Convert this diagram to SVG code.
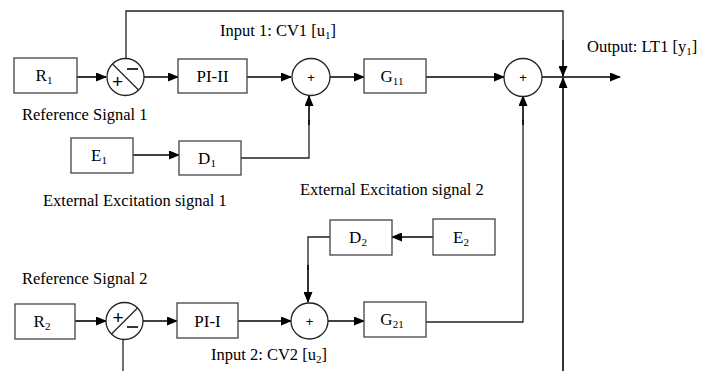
<svg xmlns="http://www.w3.org/2000/svg" width="704" height="371" viewBox="0 0 704 371">
<style>
.box{fill:#fff;stroke:#444;stroke-width:1.3}
.sum{fill:#fff;stroke:#222;stroke-width:1.3}
.ln{fill:none;stroke:#000;stroke-width:1.6}
.thin{fill:none;stroke:#222;stroke-width:1.3}
text{font-family:"Liberation Serif","Times New Roman",serif;fill:#000}
.lbl{font-size:16.5px}
.bl{font-size:17px;text-anchor:middle}
.sub{font-size:11px}
.sp{font-size:13px;text-anchor:middle;font-family:"Liberation Sans",Arial,sans-serif}
.sg{font-size:19px;text-anchor:middle;font-family:"Liberation Sans",Arial,sans-serif}
</style>
<defs>
<marker id="ah" markerWidth="11" markerHeight="9" refX="10" refY="4.5" orient="auto" markerUnits="userSpaceOnUse">
<path d="M0,0 L11,4.5 L0,9 Z" fill="#000"/>
</marker>
</defs>

<g id="connectors">
<line class="ln" x1="77" y1="77" x2="106" y2="77" marker-end="url(#ah)"/>
<line class="ln" x1="144" y1="77" x2="178" y2="77" marker-end="url(#ah)"/>
<line class="ln" x1="247" y1="77" x2="291" y2="77" marker-end="url(#ah)"/>
<line class="ln" x1="330" y1="77" x2="364" y2="77" marker-end="url(#ah)"/>
<line class="ln" x1="426" y1="77" x2="504" y2="77" marker-end="url(#ah)"/>
<line class="ln" x1="542" y1="77" x2="620" y2="77" marker-end="url(#ah)"/>
<polyline class="thin" points="126,58.5 126,11 563,11 563,40"/>
<line class="ln" x1="563" y1="40" x2="563" y2="76" marker-end="url(#ah)"/>
<line class="ln" x1="563" y1="371" x2="563" y2="78" marker-end="url(#ah)"/>
<line class="ln" x1="133" y1="155" x2="179" y2="155" marker-end="url(#ah)"/>
<polyline class="thin" points="241,158 309,158 309,120"/>
<line class="ln" x1="309" y1="125" x2="309" y2="96" marker-end="url(#ah)"/>
<polyline class="thin" points="426,322 523,322 523,120"/>
<line class="ln" x1="523" y1="125" x2="523" y2="96" marker-end="url(#ah)"/>
<line class="ln" x1="433" y1="237" x2="392" y2="237" marker-end="url(#ah)"/>
<polyline class="thin" points="330,237 308,237 308,270"/>
<line class="ln" x1="308" y1="265" x2="308" y2="302" marker-end="url(#ah)"/>
<line class="ln" x1="75" y1="321" x2="106" y2="321" marker-end="url(#ah)"/>
<line class="ln" x1="143" y1="321" x2="177" y2="321" marker-end="url(#ah)"/>
<line class="ln" x1="238" y1="321" x2="291" y2="321" marker-end="url(#ah)"/>
<line class="ln" x1="328" y1="321" x2="364" y2="321" marker-end="url(#ah)"/>
<line class="thin" x1="123" y1="339.5" x2="123" y2="371"/>
</g>

<g id="R1"><rect class="box" x="14" y="58" width="63" height="35"/><text class="bl" x="44" y="81">R<tspan class="sub" dy="3">1</tspan></text></g>
<g id="sum1"><circle class="sum" cx="125.5" cy="77" r="18.5"/><line class="thin" x1="112.5" y1="64" x2="138.5" y2="90"/><text class="sg" x="117.5" y="88">+</text><line stroke="#000" stroke-width="1.6" x1="127" y1="69" x2="138" y2="69"/></g>
<g id="PIII"><rect class="box" x="178" y="59" width="69" height="34"/><text class="bl" x="212.5" y="81.5">PI-II</text></g>
<g id="sum2"><ellipse class="sum" cx="311" cy="77" rx="19" ry="18.5"/><text class="sp" x="311" y="81.5">+</text></g>
<g id="G11"><rect class="box" x="364" y="59" width="62" height="34"/><text class="bl" x="392" y="81.5">G<tspan class="sub" dy="3">11</tspan></text></g>
<g id="sum3"><ellipse class="sum" cx="523" cy="77.5" rx="19" ry="19"/><text class="sp" x="523" y="82">+</text></g>

<g id="E1"><rect class="box" x="71" y="138" width="62" height="35"/><text class="bl" x="99" y="161">E<tspan class="sub" dy="3">1</tspan></text></g>
<g id="D1"><rect class="box" x="179" y="141" width="62" height="34"/><text class="bl" x="207" y="164">D<tspan class="sub" dy="3">1</tspan></text></g>

<g id="D2"><rect class="box" x="330" y="220" width="62" height="35"/><text class="bl" x="358" y="243">D<tspan class="sub" dy="3">2</tspan></text></g>
<g id="E2"><rect class="box" x="433" y="219" width="62" height="36"/><text class="bl" x="461" y="243">E<tspan class="sub" dy="3">2</tspan></text></g>

<g id="R2"><rect class="box" x="15" y="304" width="60" height="35"/><text class="bl" x="42" y="327">R<tspan class="sub" dy="3">2</tspan></text></g>
<g id="sum5"><circle class="sum" cx="124.5" cy="321" r="18.5"/><line class="thin" x1="111.5" y1="334" x2="137.5" y2="308"/><text class="sg" x="118" y="323.5">+</text><line stroke="#000" stroke-width="1.6" x1="127" y1="327" x2="138" y2="327"/></g>
<g id="PII"><rect class="box" x="177" y="303" width="61" height="35"/><text class="bl" x="207.5" y="326.5">PI-I</text></g>
<g id="sum6"><ellipse class="sum" cx="309.5" cy="321" rx="18.5" ry="18"/><text class="sp" x="309.5" y="325.5">+</text></g>
<g id="G21"><rect class="box" x="364" y="302" width="62" height="35"/><text class="bl" x="392" y="325">G<tspan class="sub" dy="3">21</tspan></text></g>

<g id="labels">
<text class="lbl" x="220" y="36">Input 1: CV1 [u<tspan class="sub" dy="3">1</tspan><tspan dy="-3">]</tspan></text>
<text class="lbl" x="587" y="52">Output: LT1 [y<tspan class="sub" dy="3">1</tspan><tspan dy="-3">]</tspan></text>
<text class="lbl" x="22" y="120">Reference Signal 1</text>
<text class="lbl" x="43" y="206">External Excitation signal 1</text>
<text class="lbl" x="300" y="195">External Excitation signal 2</text>
<text class="lbl" x="22" y="284">Reference Signal 2</text>
<text class="lbl" x="211" y="360">Input 2: CV2 [u<tspan class="sub" dy="3">2</tspan><tspan dy="-3">]</tspan></text>
</g>
</svg>
